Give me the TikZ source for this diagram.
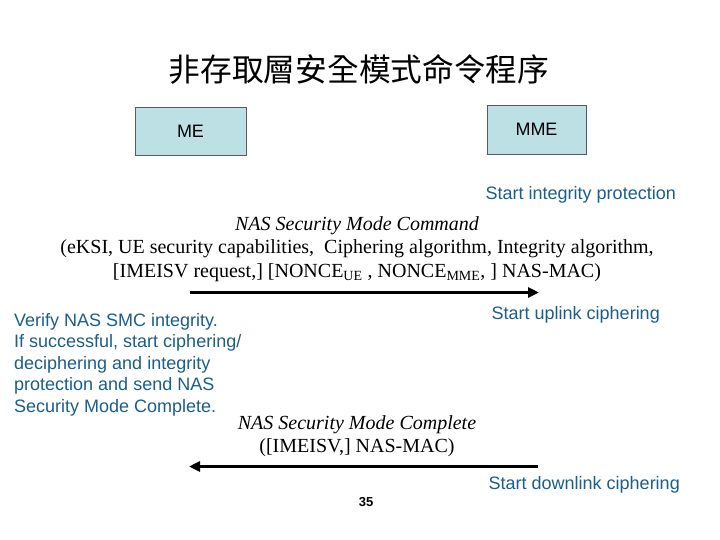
\documentclass[tikz,border=0pt]{standalone}
\usepackage{fontspec}
\setmainfont{Liberation Serif}
\setsansfont{Liberation Sans}
\newfontfamily\cjk{Noto Sans CJK TC}
\usetikzlibrary{arrows.meta}
\definecolor{boxfill}{RGB}{189,224,229}
\definecolor{boxline}{RGB}{90,90,90}
\definecolor{note}{RGB}{26,94,138}
\tikzset{
  entity/.style={draw=boxline, line width=0.8pt, fill=boxfill, inner sep=0pt, font=\sffamily\fontsize{18}{20}\selectfont},
  notetext/.style={inner sep=0pt, text=note, font=\sffamily\fontsize{18}{21.5}\selectfont},
  msgtext/.style={inner sep=0pt, font=\rmfamily\fontsize{20}{23.5}\selectfont},
  msgtitle/.style={inner sep=0pt, font=\rmfamily\itshape\fontsize{20}{23.5}\selectfont},
  msg/.style={line width=3pt, -{Triangle[length=11pt,width=10pt]}}
}
\begin{document}
\begin{tikzpicture}[x=1pt,y=-1pt]
\useasboundingbox (0,0) rectangle (720,540);
\node[inner sep=0pt, anchor=base, font=\cjk\fontsize{31.7}{36}\selectfont] (title) at (359,82) {非存取層安全模式命令程序};
\node[entity, minimum width=111pt, minimum height=48pt] (me) at (190.5,131) {ME};
\node[entity, minimum width=99pt, minimum height=49pt] (mme) at (536.5,129.5) {MME};
\node[notetext, anchor=base east] (sip) at (676,200) {Start integrity protection};
\node[msgtitle, anchor=base] (smc) at (357,230) {NAS Security Mode Command};
\node[msgtext, anchor=base] (smc2) at (357,254) {(eKSI, UE security capabilities,\ \ Ciphering algorithm, Integrity algorithm,};
\node[msgtext, anchor=base] (smc3) at (357,277) {[IMEISV request,] [NONCE\textsubscript{UE} , NONCE\textsubscript{MME}, ] NAS-MAC)};
\coordinate (a1s) at (190,292.5);
\coordinate (a1e) at (539,292.5);
\draw[msg] (a1s) -- (a1e);
\node[notetext, anchor=base east] (sup) at (660,319) {Start uplink ciphering};
\node[notetext, anchor=north west, align=left] (verify) at (14,313) {Verify NAS SMC integrity.\\If successful, start ciphering/\\deciphering and integrity\\protection and send NAS\\Security Mode Complete.};
\node[msgtitle, anchor=base] (smcc) at (357,429) {NAS Security Mode Complete};
\node[msgtext, anchor=base] (smcc2) at (357,452) {([IMEISV,] NAS-MAC)};
\coordinate (a2s) at (538,466.5);
\coordinate (a2e) at (189,466.5);
\draw[msg] (a2s) -- (a2e);
\node[notetext, anchor=base east] (sdown) at (680,489) {Start downlink ciphering};
\node[inner sep=0pt, anchor=base, font=\sffamily\bfseries\fontsize{13}{15}\selectfont] (page) at (366,506) {35};
\end{tikzpicture}
\end{document}
